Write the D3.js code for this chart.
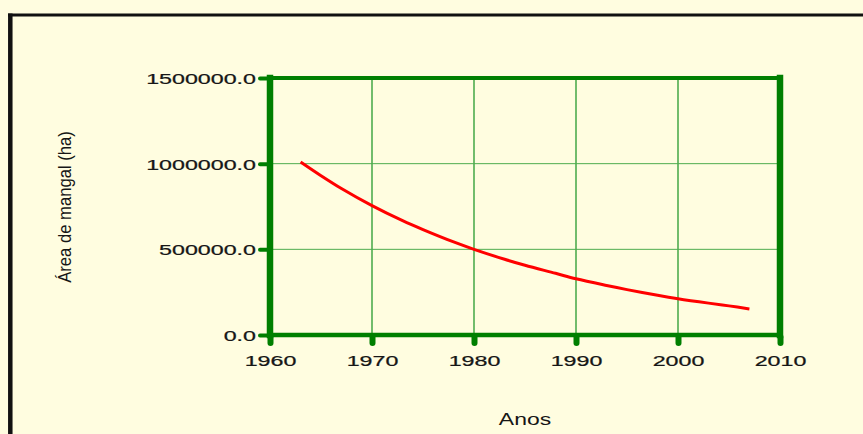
<!DOCTYPE html>
<html><head><meta charset="utf-8">
<script src="https://cdn.jsdelivr.net/npm/d3@7"></script>
<style>body{margin:0;background:#FFFDE0;}svg{display:block;}</style>
</head><body>
<svg id="chart" width="863" height="434"></svg>
<script>
const years = [1963,1965,1967,1970,1973,1975,1978,1980,1983,1985,1988,1990,1993,1995,1998,2000,2003,2005,2007];
const area  = [1010000,930000,855000,755000,667000,615000,543000,500000,442000,407000,360000,328000,289000,265000,232000,212000,186000,170000,152000];
const xTicks = [1960,1970,1980,1990,2000,2010];
const yTicks = [0,500000,1000000,1500000];
const xLabel = "Anos";
const yLabel = "Área de mangal (ha)";

const svg = d3.select("#chart");
const green = "#007f00", grid = "#4fac4f", txt = "#161616";
const sx = 1.5;
svg.append("rect").attr("width",863).attr("height",434).attr("fill","#FFFDE0");
// outer frame
svg.append("line").attr("x1",8).attr("x2",880).attr("y1",15).attr("y2",15).attr("stroke","#111").attr("stroke-width",3);
svg.append("line").attr("x1",10.3).attr("x2",10.3).attr("y1",13.5).attr("y2",450).attr("stroke","#111").attr("stroke-width",4.5);

const x = d3.scaleLinear().domain([1960,2010]).range([270,780]);
const y = d3.scaleLinear().domain([0,1500000]).range([335,78]);

// gridlines
svg.append("g").selectAll("line").data(xTicks.slice(1,-1)).join("line")
  .attr("x1",d=>x(d)).attr("x2",d=>x(d)).attr("y1",y(1500000)).attr("y2",y(0))
  .attr("stroke",grid).attr("stroke-width",1.6);
svg.append("g").selectAll("line").data(yTicks.slice(1,-1)).join("line")
  .attr("x1",x(1960)).attr("x2",x(2010)).attr("y1",d=>y(d)).attr("y2",d=>y(d))
  .attr("stroke",grid).attr("stroke-width",1);

// axes
const fmt = d3.format(".1f");
const font = "'Liberation Sans',Arial,sans-serif";
const gy = svg.append("g").attr("transform",`translate(${x(1960)},0)`)
  .call(d3.axisLeft(y).tickValues(yTicks).tickFormat(fmt).tickSize(10).tickPadding(5));
gy.select(".domain").remove();
gy.selectAll(".tick line").attr("stroke",green).attr("stroke-width",4).attr("stroke-linecap","round").attr("x1",-3).attr("x2",-10);
gy.selectAll(".tick text").attr("x",null).attr("dy","0.36em")
  .attr("transform",`translate(-14,0) scale(${sx},1)`)
  .attr("fill",txt).attr("font-size",15.5).attr("font-family",font)
  .attr("stroke",txt).attr("stroke-width",0.25);

const gx = svg.append("g").attr("transform",`translate(0,${y(0)})`)
  .call(d3.axisBottom(x).tickValues(xTicks).tickFormat(d3.format("d")).tickSize(10).tickPadding(8));
gx.select(".domain").remove();
gx.selectAll(".tick line").attr("stroke",green).attr("stroke-width",6).attr("stroke-linecap","round").attr("y1",2).attr("y2",8);
gx.selectAll(".tick text").attr("y",null).attr("dy",null)
  .attr("transform",`translate(0,31) scale(${sx},1)`)
  .attr("fill",txt).attr("font-size",15.5).attr("font-family",font)
  .attr("stroke",txt).attr("stroke-width",0.25);

// plot frame
const fr = svg.append("g").attr("stroke",green).attr("stroke-linecap","square");
fr.append("line").attr("x1",x(1960)).attr("x2",x(2010)).attr("y1",y(1500000)).attr("y2",y(1500000)).attr("stroke-width",4);
fr.append("line").attr("x1",x(1960)).attr("x2",x(2010)).attr("y1",y(0)).attr("y2",y(0)).attr("stroke-width",4.5);
fr.append("line").attr("x1",x(1960)).attr("x2",x(1960)).attr("y1",y(1500000)).attr("y2",y(0)).attr("stroke-width",6.5);
fr.append("line").attr("x1",x(2010)).attr("x2",x(2010)).attr("y1",y(1500000)).attr("y2",y(0)).attr("stroke-width",6.5);

// curve
const line = d3.line().x((d,i)=>x(years[i])).y(d=>y(d)).curve(d3.curveCatmullRom.alpha(0.5));
svg.append("path").datum(area).attr("d",line).attr("fill","none").attr("stroke","#ff0000").attr("stroke-width",3);

// labels
svg.append("text").attr("transform","translate(525,425) scale(1.35,1)").attr("text-anchor","middle")
  .attr("font-size",17).attr("font-family",font).attr("fill",txt).text(xLabel);
svg.append("text").attr("transform","translate(71,207) rotate(-90) scale(1.04,1.2)").attr("text-anchor","middle")
  .attr("font-size",16).attr("font-family","'Liberation Sans Narrow','Liberation Sans',Arial,sans-serif").attr("fill",txt).text(yLabel);
</script>
</body></html>
